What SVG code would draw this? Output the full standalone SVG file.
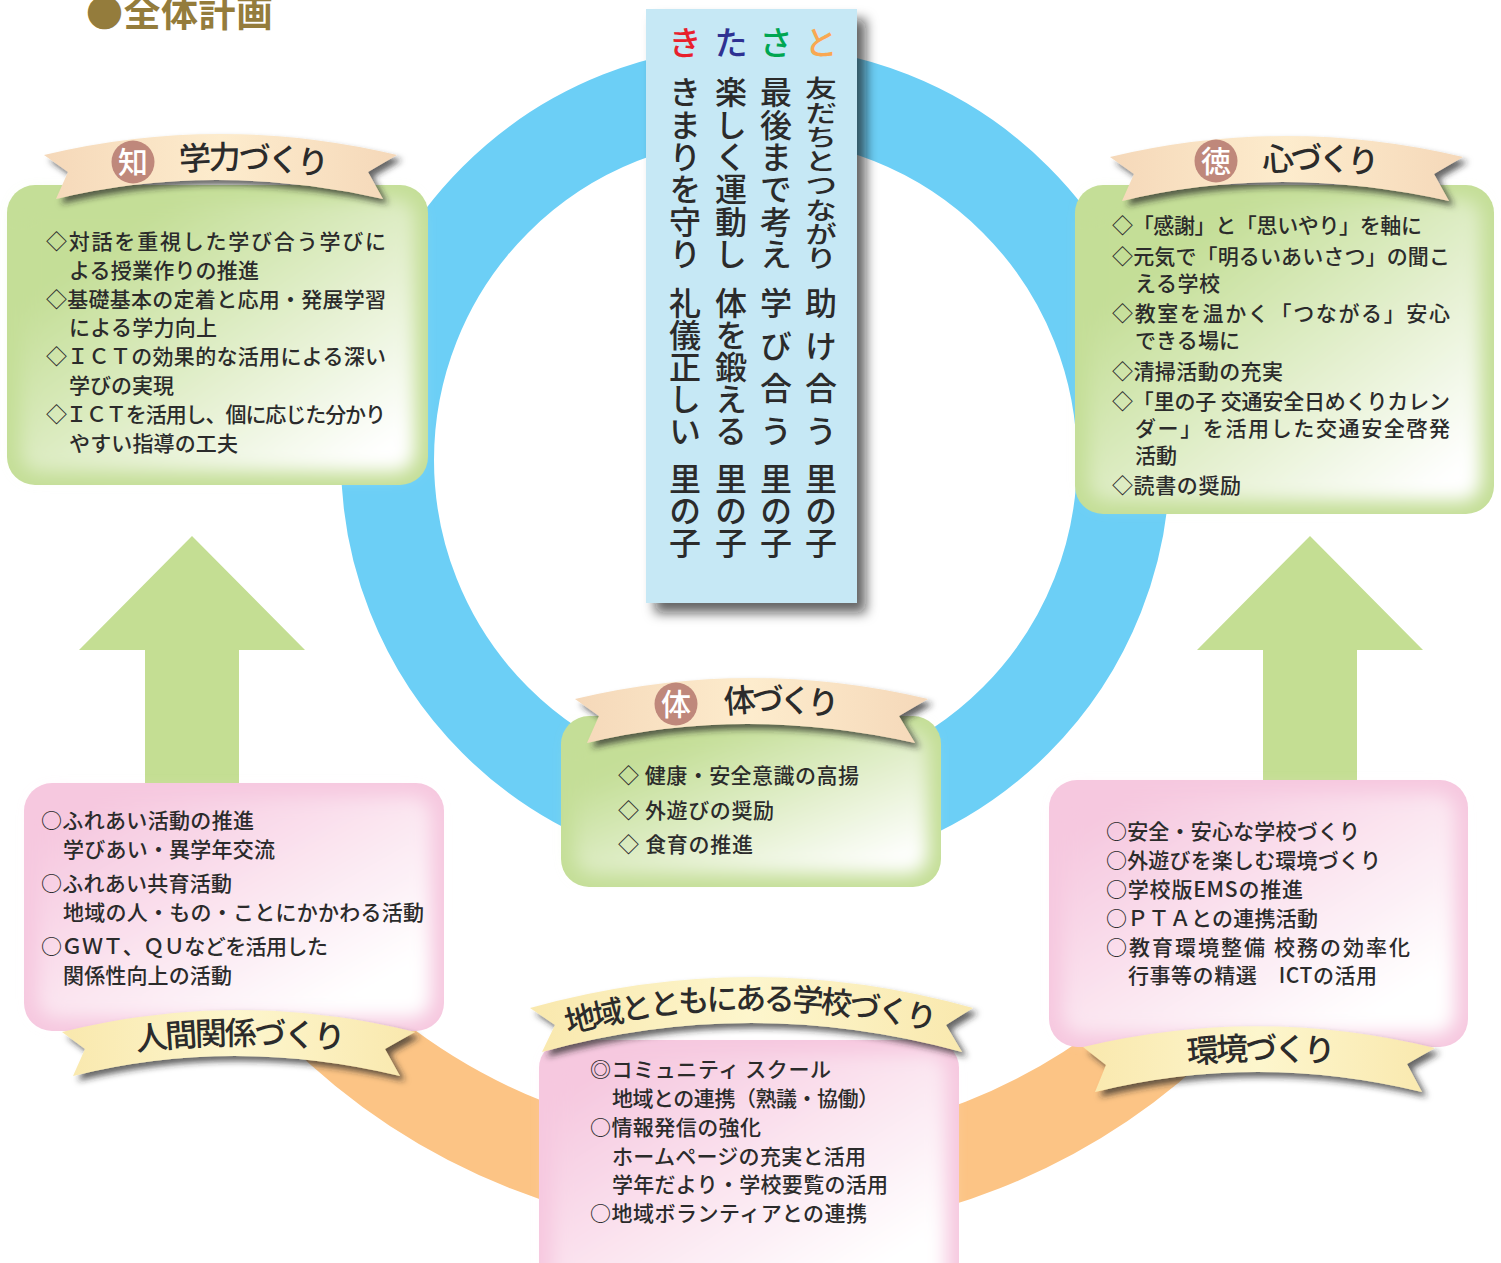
<svg xmlns="http://www.w3.org/2000/svg" width="1501" height="1263" viewBox="0 0 1501 1263">
<style>
text{font-family:"Noto Sans CJK JP","Noto Sans",sans-serif;fill:#2b2b2b;font-weight:500}
.t{font-size:21px}
.b{font-size:32px}
.b4{font-size:31px}
.v{font-size:32px;writing-mode:vertical-rl}
.k{font-size:33px;text-anchor:middle}
.m{font-size:30px;fill:#fff;text-anchor:middle}
.badge{fill:#bf887b}
.gb{fill:#c4de97}
.pb{fill:#f6c8df}
.gi{fill:url(#gg);filter:url(#bl)}
.pi{fill:url(#pg);filter:url(#bl)}
.ban1{fill:url(#b1);filter:url(#sh)}
.ban2{fill:url(#b2);filter:url(#sh)}
.arrow{fill:#c4de93}
</style>
<defs>
<linearGradient id="gg" x1="0" y1="0" x2="1" y2="1"><stop offset=".2" stop-color="#c4de97"/><stop offset=".92" stop-color="#fff"/></linearGradient>
<linearGradient id="pg" x1="0" y1="0" x2="1" y2="1"><stop offset=".1" stop-color="#f6c8df"/><stop offset=".85" stop-color="#fff"/></linearGradient>
<linearGradient id="b1"><stop offset="0" stop-color="#f5d8b9"/><stop offset=".5" stop-color="#fdeccd"/><stop offset="1" stop-color="#f5d8b9"/></linearGradient>
<linearGradient id="b2"><stop offset="0" stop-color="#f9e8ad"/><stop offset=".5" stop-color="#fdf6cd"/><stop offset="1" stop-color="#f9e8ad"/></linearGradient>
<filter id="bl" x="-10%" y="-10%" width="120%" height="120%"><feGaussianBlur stdDeviation="9"/></filter>
<filter id="sh" x="-10%" y="-30%" width="120%" height="170%"><feDropShadow dx="5" dy="5" stdDeviation="3" flood-color="#222" flood-opacity=".7"/></filter>
<filter id="sh2" x="-15%" y="-8%" width="130%" height="116%"><feDropShadow dx="9" dy="10" stdDeviation="6" flood-color="#111" flood-opacity=".65"/></filter>
<clipPath id="low"><rect x="0" y="1020" width="1501" height="243"/></clipPath>
<path id="p1" d="M180 171 Q252 164 340 178"/>
<path id="p2" d="M1263 172 Q1320 165 1390 177"/>
<path id="p3" d="M725 714 Q780 706 850 719"/>
<path id="p4" d="M568 1034 Q748 985 948 1034"/>
<path id="p5" d="M137 1051 Q238 1038 355 1051"/>
<path id="p6" d="M1188 1064 Q1260 1056 1345 1064"/>
</defs>
<rect width="1501" height="1263" fill="#fff"/>

<g id="title"><text x="86" y="27" style="font-size:37px;font-weight:700;fill:#947c3c" textLength="187">●全体計画</text></g>

<g id="connectors">
<circle cx="755" cy="570" r="618.5" fill="none" stroke="#fcc485" stroke-width="93" clip-path="url(#low)"/>
<circle cx="755.5" cy="460" r="368" fill="none" stroke="#6ccff6" stroke-width="93"/>
<path class="arrow" d="M192 536L305 650H239V790H145V650H79Z"/>
<path class="arrow" d="M1310 536L1423 650H1357V790H1263V650H1197Z"/>
</g>

<g id="kitasato">
<rect x="646" y="9" width="211" height="594" fill="#c6e8f5" filter="url(#sh2)"/>
<text class="k" x="685" y="55" style="fill:#e8202c">き</text>
<text class="k" x="731" y="55" style="fill:#2e3192">た</text>
<text class="k" x="776" y="55" style="fill:#00a651">さ</text>
<text class="k" x="821" y="55" style="fill:#f9a852">と</text>
<text class="v" x="821" y="76" textLength="194" lengthAdjust="spacingAndGlyphs">友だちとつながり</text>
<text class="v" x="821" y="287" textLength="160">助け合う</text>
<text class="v" x="821" y="463" textLength="96">里の子</text>
<text class="v" x="776" y="76" textLength="194">最後まで考え</text>
<text class="v" x="776" y="287" textLength="160">学び合う</text>
<text class="v" x="776" y="463" textLength="96">里の子</text>
<text class="v" x="731" y="76" textLength="194">楽しく運動し</text>
<text class="v" x="731" y="287" textLength="160">体を鍛える</text>
<text class="v" x="731" y="463" textLength="96">里の子</text>
<text class="v" x="685" y="76" textLength="194">きまりを守り</text>
<text class="v" x="685" y="287" textLength="160">礼儀正しい</text>
<text class="v" x="685" y="463" textLength="96">里の子</text>
</g>

<g id="chi">
<rect class="gb" x="7" y="185" width="421" height="300" rx="28"/>
<rect class="gi" x="20" y="198" width="395" height="274" rx="20"/>
<path class="ban1" d="M44 155Q220 113 397 155L368 172L383 199Q213 161 56 199L68 172Z"/>
<circle class="badge" cx="133" cy="162" r="21.5"/>
<text class="m" x="133" y="173">知</text>
<text class="b"><textPath href="#p1" textLength="148">学力づくり</textPath></text>
<text class="t" x="46" y="249" textLength="340">◇対話を重視した学び合う学びに</text>
<text class="t" x="69" y="278" textLength="190">よる授業作りの推進</text>
<text class="t" x="46" y="307" textLength="340">◇基礎基本の定着と応用・発展学習</text>
<text class="t" x="69" y="335" textLength="148">による学力向上</text>
<text class="t" x="46" y="364" textLength="340">◇ＩＣＴの効果的な活用による深い</text>
<text class="t" x="69" y="393" textLength="105">学びの実現</text>
<text class="t" x="46" y="422" textLength="340">◇ＩＣＴを活用し、個に応じた分かり</text>
<text class="t" x="69" y="451" textLength="169">やすい指導の工夫</text>
</g>

<g id="toku">
<rect class="gb" x="1075" y="185" width="419" height="329" rx="28"/>
<rect class="gi" x="1088" y="198" width="393" height="303" rx="20"/>
<path class="ban1" d="M1110 157Q1286 115 1463 157L1434 174L1449 201Q1279 163 1122 201L1134 174Z"/>
<circle class="badge" cx="1216" cy="161" r="21.5"/>
<text class="m" x="1216" y="172">徳</text>
<text class="b"><textPath href="#p2" textLength="115">心づくり</textPath></text>
<text class="t" x="1112" y="233" textLength="310">◇「感謝」と「思いやり」を軸に</text>
<text class="t" x="1112" y="264" textLength="338">◇元気で「明るいあいさつ」の聞こ</text>
<text class="t" x="1135" y="291" textLength="85">える学校</text>
<text class="t" x="1112" y="321" textLength="338">◇教室を温かく「つながる」安心</text>
<text class="t" x="1135" y="348" textLength="105">できる場に</text>
<text class="t" x="1112" y="379" textLength="171">◇清掃活動の充実</text>
<text class="t" x="1112" y="409" textLength="338">◇「里の子 交通安全日めくりカレン</text>
<text class="t" x="1135" y="436" textLength="315">ダー」を活用した交通安全啓発</text>
<text class="t" x="1135" y="463" textLength="42">活動</text>
<text class="t" x="1112" y="493" textLength="129">◇読書の奨励</text>
</g>

<g id="tai">
<rect class="gb" x="561" y="716" width="380" height="171" rx="28"/>
<rect class="gi" x="574" y="729" width="354" height="145" rx="20"/>
<path class="ban1" d="M575 699Q751 657 928 699L899 716L915 743Q744 705 587 743L599 716Z"/>
<circle class="badge" cx="676" cy="704" r="21.5"/>
<text class="m" x="676" y="715">体</text>
<text class="b"><textPath href="#p3" textLength="113">体づくり</textPath></text>
<text class="t" x="618" y="783" textLength="241">◇ 健康・安全意識の高揚</text>
<text class="t" x="618" y="818" textLength="156">◇ 外遊びの奨励</text>
<text class="t" x="618" y="852" textLength="135">◇ 食育の推進</text>
</g>

<g id="ningen">
<rect class="pb" x="24" y="783" width="420" height="248" rx="28"/>
<rect class="pi" x="37" y="796" width="394" height="222" rx="20"/>
<path class="ban2" d="M62 1032Q238 988 415 1032L385 1049L400 1076Q233 1036 73 1076L85 1049Z"/>
<text class="b"><textPath href="#p5" textLength="208">人間関係づくり</textPath></text>
<text class="t" x="41" y="828" textLength="213">○ふれあい活動の推進</text>
<text class="t" x="63" y="857" textLength="212">学びあい・異学年交流</text>
<text class="t" x="41" y="891" textLength="191">○ふれあい共育活動</text>
<text class="t" x="63" y="920" textLength="361">地域の人・もの・ことにかかわる活動</text>
<text class="t" x="41" y="954" textLength="287">○ＧＷＴ、ＱＵなどを活用した</text>
<text class="t" x="63" y="983" textLength="169">関係性向上の活動</text>
</g>

<g id="kankyo">
<rect class="pb" x="1049" y="780" width="419" height="267" rx="28"/>
<rect class="pi" x="1062" y="793" width="393" height="241" rx="20"/>
<path class="ban2" d="M1083 1047Q1258 1005 1435 1048L1407 1064L1422 1092Q1257 1052 1095 1092L1106 1065Z"/>
<text class="b"><textPath href="#p6" textLength="147">環境づくり</textPath></text>
<text class="t" x="1106" y="839" textLength="254">○安全・安心な学校づくり</text>
<text class="t" x="1106" y="868" textLength="275">○外遊びを楽しむ環境づくり</text>
<text class="t" x="1106" y="897" textLength="197">○学校版EMSの推進</text>
<text class="t" x="1106" y="926" textLength="212">○ＰＴＡとの連携活動</text>
<text class="t" x="1106" y="955" textLength="304">○教育環境整備 校務の効率化</text>
<text class="t" x="1128" y="983" textLength="249">行事等の精選　ICTの活用</text>
</g>

<g id="chiiki">
<rect class="pb" x="539" y="1040" width="420" height="270" rx="28"/>
<rect class="pi" x="552" y="1053" width="394" height="244" rx="20"/>
<path class="ban2" d="M530 1008Q752 946 973 1008L946 1025L962 1052Q750 994 542 1052L555 1025Z"/>
<text class="b4"><textPath href="#p4" textLength="370">地域とともにある学校づくり</textPath></text>
<text class="t" x="590" y="1077" textLength="241">◎コミュニティ スクール</text>
<text class="t" x="612" y="1106" textLength="267">地域との連携（熟議・協働）</text>
<text class="t" x="590" y="1135" textLength="171">○情報発信の強化</text>
<text class="t" x="612" y="1164" textLength="254">ホームページの充実と活用</text>
<text class="t" x="612" y="1192" textLength="276">学年だより・学校要覧の活用</text>
<text class="t" x="590" y="1221" textLength="277">○地域ボランティアとの連携</text>
</g>
</svg>
